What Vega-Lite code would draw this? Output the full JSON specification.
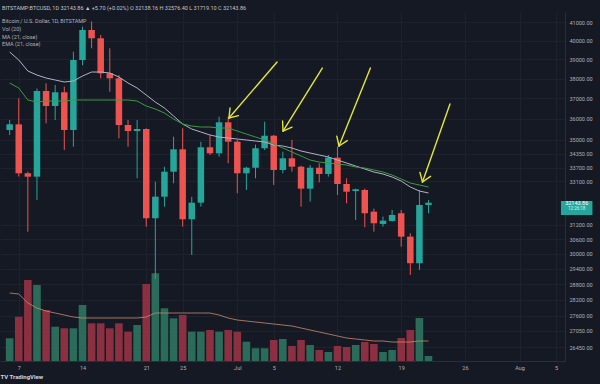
{
"$schema":"https://vega.github.io/schema/vega-lite/v6.json",
"width":565,"height":349,
"autosize":{"type":"none"},
"padding":{"left":0,"top":12,"right":35,"bottom":23},
"background":"#151924",
"config":{"view":{"stroke":null},"font":"Roboto"},
"title":{"text":"BITSTAMP:BTCUSD, 1D  32143.86  ▲ +5.70 (+0.02%)   O 32138.16  H 32576.40  L 31719.10  C 32143.86","subtitle":["\u00a0\u00a0Bitcoin / U.S. Dollar, 1D, BITSTAMP","\u00a0\u00a0Vol (20)","\u00a0\u00a0MA (21, close)","\u00a0\u00a0EMA (21, close)"],"anchor":"start","frame":"group","orient":"top","offset":-36,"dx":2,"fontSize":5.5,"fontWeight":"normal","color":"#c3c6ce","subtitleFontSize":5.5,"subtitleColor":"#aeb1ba","subtitleLineHeight":7.7,"subtitlePadding":8},
"datasets":{"ohlc":[
{"d":"2021-06-06","o":35460,"h":35940,"l":35220,"c":35730,"v":5675,"ma":39395,"ema":37781,"vma":17000},
{"d":"2021-06-07","o":35730,"h":37009,"l":33300,"c":33447,"v":11075,"ma":38972,"ema":37526,"vma":16750},
{"d":"2021-06-08","o":33447,"h":33520,"l":30914,"c":33294,"v":20250,"ma":38397,"ema":36923,"vma":14500},
{"d":"2021-06-09","o":33294,"h":37500,"l":32264,"c":37375,"v":19000,"ma":38190,"ema":36823,"vma":13250},
{"d":"2021-06-10","o":37375,"h":37765,"l":35781,"c":36627,"v":12750,"ma":38036,"ema":36873,"vma":12500},
{"d":"2021-06-11","o":36627,"h":37679,"l":35940,"c":37310,"v":8575,"ma":37934,"ema":36873,"vma":12000},
{"d":"2021-06-12","o":37310,"h":37600,"l":34515,"c":35459,"v":8175,"ma":37832,"ema":36873,"vma":11500},
{"d":"2021-06-13","o":35459,"h":39411,"l":34669,"c":38972,"v":8175,"ma":37883,"ema":36923,"vma":11000},
{"d":"2021-06-14","o":38972,"h":40763,"l":38710,"c":40582,"v":14000,"ma":38139,"ema":36923,"vma":10750},
{"d":"2021-06-15","o":40582,"h":41050,"l":39592,"c":40130,"v":9425,"ma":38345,"ema":36923,"vma":10750},
{"d":"2021-06-16","o":40130,"h":40309,"l":38021,"c":38279,"v":9425,"ma":38345,"ema":36923,"vma":10750},
{"d":"2021-06-17","o":38279,"h":39592,"l":37340,"c":38021,"v":8175,"ma":38294,"ema":36923,"vma":10750},
{"d":"2021-06-18","o":38021,"h":38191,"l":35064,"c":35699,"v":9425,"ma":38087,"ema":36923,"vma":10750},
{"d":"2021-06-19","o":35699,"h":35940,"l":34669,"c":35411,"v":7325,"ma":37781,"ema":36923,"vma":10750},
{"d":"2021-06-20","o":35411,"h":35940,"l":33222,"c":35507,"v":9000,"ma":37526,"ema":36873,"vma":10750},
{"d":"2021-06-21","o":35507,"h":35540,"l":31123,"c":31477,"v":19250,"ma":37173,"ema":36625,"vma":11000},
{"d":"2021-06-22","o":31477,"h":33070,"l":29000,"c":32408,"v":21925,"ma":36823,"ema":36477,"vma":12000},
{"d":"2021-06-23","o":32408,"h":33746,"l":31974,"c":33519,"v":13175,"ma":36526,"ema":36281,"vma":12000},
{"d":"2021-06-24","o":33519,"h":35140,"l":33000,"c":34547,"v":10675,"ma":36134,"ema":35989,"vma":12000},
{"d":"2021-06-25","o":34547,"h":35540,"l":31123,"c":31435,"v":11500,"ma":35746,"ema":35746,"vma":12000},
{"d":"2021-06-26","o":31435,"h":32400,"l":29957,"c":32147,"v":7325,"ma":35506,"ema":35650,"vma":12000},
{"d":"2021-06-27","o":32147,"h":34900,"l":31974,"c":34641,"v":7325,"ma":35362,"ema":35602,"vma":12000},
{"d":"2021-06-28","o":34641,"h":35220,"l":34283,"c":34361,"v":7750,"ma":35220,"ema":35602,"vma":12000},
{"d":"2021-06-29","o":34361,"h":36101,"l":34204,"c":35829,"v":7325,"ma":35125,"ema":35554,"vma":11500},
{"d":"2021-06-30","o":35829,"h":36101,"l":33901,"c":34903,"v":7750,"ma":35077,"ema":35554,"vma":10750},
{"d":"2021-07-01","o":34903,"h":34984,"l":32557,"c":33447,"v":7325,"ma":35030,"ema":35410,"vma":10250},
{"d":"2021-07-02","o":33447,"h":33746,"l":32702,"c":33700,"v":4825,"ma":34983,"ema":35267,"vma":10000},
{"d":"2021-07-03","o":33700,"h":34770,"l":33222,"c":34594,"v":3175,"ma":34936,"ema":35125,"vma":9750},
{"d":"2021-07-04","o":34594,"h":35858,"l":34515,"c":35187,"v":3175,"ma":34889,"ema":34983,"vma":9500},
{"d":"2021-07-05","o":35187,"h":35220,"l":32924,"c":33596,"v":5250,"ma":34748,"ema":34795,"vma":9250},
{"d":"2021-07-06","o":33596,"h":34436,"l":33447,"c":34131,"v":5500,"ma":34701,"ema":34607,"vma":9000},
{"d":"2021-07-07","o":34131,"h":34984,"l":33519,"c":33746,"v":3750,"ma":34607,"ema":34421,"vma":8750},
{"d":"2021-07-08","o":33746,"h":33790,"l":31974,"c":32760,"v":5250,"ma":34467,"ema":34236,"vma":8250},
{"d":"2021-07-09","o":32760,"h":33820,"l":32190,"c":33700,"v":4000,"ma":34375,"ema":34051,"vma":7750},
{"d":"2021-07-10","o":33700,"h":33901,"l":33040,"c":33416,"v":2750,"ma":34282,"ema":33959,"vma":7250},
{"d":"2021-07-11","o":33416,"h":34283,"l":33294,"c":34158,"v":2250,"ma":34190,"ema":33913,"vma":6750},
{"d":"2021-07-12","o":34158,"h":34669,"l":32482,"c":32968,"v":3750,"ma":34051,"ema":33868,"vma":6250},
{"d":"2021-07-13","o":32968,"h":33222,"l":32120,"c":32627,"v":3500,"ma":33913,"ema":33822,"vma":5750},
{"d":"2021-07-14","o":32658,"h":32760,"l":31405,"c":32733,"v":4000,"ma":33776,"ema":33731,"vma":5500},
{"d":"2021-07-15","o":32702,"h":32760,"l":31100,"c":31690,"v":4750,"ma":33640,"ema":33685,"vma":5250},
{"d":"2021-07-16","o":31759,"h":31890,"l":30914,"c":31266,"v":4250,"ma":33504,"ema":33595,"vma":5000},
{"d":"2021-07-17","o":31237,"h":31550,"l":31123,"c":31376,"v":2250,"ma":33414,"ema":33504,"vma":5000},
{"d":"2021-07-18","o":31363,"h":31832,"l":31330,"c":31618,"v":2750,"ma":33279,"ema":33369,"vma":4750},
{"d":"2021-07-19","o":31690,"h":31832,"l":30294,"c":30706,"v":5750,"ma":33099,"ema":33189,"vma":4750},
{"d":"2021-07-20","o":30706,"h":30847,"l":29160,"c":29624,"v":7750,"ma":32833,"ema":33010,"vma":4750},
{"d":"2021-07-21","o":29624,"h":32702,"l":29357,"c":32047,"v":10750,"ma":32656,"ema":32921,"vma":5000},
{"d":"2021-07-22","o":32047,"h":32260,"l":31690,"c":32143,"v":1250,"ma":32568,"ema":32833,"vma":5000}
],
"arrows":[
{"x":"2021-07-05T08:54:00Z","p":38867,"x2":"2021-06-30T02:02:00Z","p2":36037},
{"x":"2021-07-01T03:10:00Z","p":36154,"x2":"2021-06-30T02:02:00Z","p2":36037},
{"x":"2021-06-30T04:54:00Z","p":36526,"x2":"2021-06-30T02:02:00Z","p2":36037},
{"x":"2021-07-10T08:00:00Z","p":38553,"x2":"2021-07-06T00:26:00Z","p2":35410},
{"x":"2021-07-07T00:16:00Z","p":35592,"x2":"2021-07-06T00:26:00Z","p2":35410},
{"x":"2021-07-05T23:24:00Z","p":35892,"x2":"2021-07-06T00:26:00Z","p2":35410},
{"x":"2021-07-15T14:51:00Z","p":38553,"x2":"2021-07-12T04:00:00Z","p2":34701},
{"x":"2021-07-13T01:45:00Z","p":34955,"x2":"2021-07-12T04:00:00Z","p2":34701},
{"x":"2021-07-11T22:19:00Z","p":35163,"x2":"2021-07-12T04:00:00Z","p2":34701},
{"x":"2021-07-24T08:34:00Z","p":36724,"x2":"2021-07-21T08:05:00Z","p2":33055},
{"x":"2021-07-22T05:18:00Z","p":33310,"x2":"2021-07-21T08:05:00Z","p2":33055},
{"x":"2021-07-21T01:21:00Z","p":33486,"x2":"2021-07-21T08:05:00Z","p2":33055}
]},
"resolve":{"scale":{"y":"independent"},"axis":{"y":"independent"}},
"layer":[
{"data":{"name":"ohlc"},
 "layer":[
  {"mark":{"type":"bar","width":7.6},
   "encoding":{
    "x":{"field":"d","type":"temporal","scale":{"type":"utc","domain":[1622893518720,1628159529600]},
     "axis":{"values":[1623024000000,1623628800000,1624233600000,1624579200000,1625097600000,1625443200000,1626048000000,1626652800000,1627257600000,1627776000000,1628121600000],
      "labelExpr":"utcdate(datum.value) == 1 ? utcFormat(datum.value, '%b') : utcFormat(datum.value, '%-d')",
      "title":"TV TradingView","titleAnchor":"start","titleAlign":"left","titleFontSize":6,"titleFontWeight":"bold","titleColor":"#d1d4dc","titlePadding":3,
      "grid":true,"gridColor":"#1e222d","domain":true,"domainColor":"#2a2e39","ticks":false,"labelPadding":4,"labelFontSize":5.5,"labelColor":"#aeb1b9","labelFlush":false}},
    "y":{"field":"v","type":"quantitative","scale":{"domain":[0,87250],"nice":false},"axis":null},
    "color":{"condition":{"test":"datum.c >= datum.o","value":"#2b6b59"},"value":"#8a3040"}}},
  {"mark":{"type":"line","strokeWidth":0.8,"color":"#c98a6a"},
   "encoding":{
    "x":{"field":"d","type":"temporal","scale":{"type":"utc","domain":[1622893518720,1628159529600]}},
    "y":{"field":"vma","type":"quantitative","scale":{"domain":[0,87250],"nice":false},"axis":null}}}
 ]},
{"layer":[
  {"data":{"name":"ohlc"},"mark":{"type":"rule","strokeWidth":1},
   "encoding":{
    "x":{"field":"d","type":"temporal","scale":{"type":"utc","domain":[1622893518720,1628159529600]}},
    "y":{"field":"l","type":"quantitative","scale":{"type":"log","domain":[25962,41580],"nice":false,"zero":false},
     "axis":{"orient":"right","values":[41000,40000,39000,38000,37000,36000,35000,34350,33700,33100,31200,30600,30000,29400,28800,28200,27600,27050,26450],"format":".2f","title":null,"grid":true,"gridColor":"#1e222d","domain":true,"domainColor":"#2a2e39","ticks":false,"labelPadding":4,"labelFontSize":5.5,"labelColor":"#aeb1b9"}},
    "y2":{"field":"h"},
    "color":{"condition":{"test":"datum.c >= datum.o","value":"#26a69a"},"value":"#ef5350"}}},
  {"data":{"name":"ohlc"},"mark":{"type":"bar","width":6.5},
   "encoding":{
    "x":{"field":"d","type":"temporal","scale":{"type":"utc","domain":[1622893518720,1628159529600]}},
    "y":{"field":"o","type":"quantitative","scale":{"type":"log","domain":[25962,41580],"nice":false,"zero":false}},
    "y2":{"field":"c"},
    "color":{"condition":{"test":"datum.c >= datum.o","value":"#26a69a"},"value":"#ef5350"}}},
  {"mark":{"type":"rule","color":"#26a69a","strokeDash":[1,2],"opacity":0.7},
   "encoding":{"y":{"datum":32143.86,"type":"quantitative","scale":{"type":"log","domain":[25962,41580],"nice":false,"zero":false}}}},
  {"data":{"name":"ohlc"},"mark":{"type":"line","strokeWidth":1,"color":"#b4b0c8"},
   "encoding":{
    "x":{"field":"d","type":"temporal","scale":{"type":"utc","domain":[1622893518720,1628159529600]}},
    "y":{"field":"ma","type":"quantitative","scale":{"type":"log","domain":[25962,41580],"nice":false,"zero":false}}}},
  {"data":{"name":"ohlc"},"mark":{"type":"line","strokeWidth":1,"color":"#3c9a40"},
   "encoding":{
    "x":{"field":"d","type":"temporal","scale":{"type":"utc","domain":[1622893518720,1628159529600]}},
    "y":{"field":"ema","type":"quantitative","scale":{"type":"log","domain":[25962,41580],"nice":false,"zero":false}}}},
  {"data":{"name":"arrows"},"mark":{"type":"rule","strokeWidth":1.4,"color":"#e4e636","strokeCap":"round"},
   "encoding":{
    "x":{"field":"x","type":"temporal","scale":{"type":"utc","domain":[1622893518720,1628159529600]}},
    "x2":{"field":"x2"},
    "y":{"field":"p","type":"quantitative","scale":{"type":"log","domain":[25962,41580],"nice":false,"zero":false}},
    "y2":{"field":"p2"}}},
  {"data":{"values":[{"x":"2021-08-05T13:00:00Z","x2":"2021-08-09T00:00:00Z","p":32217,"p2":31615}]},
   "mark":{"type":"rect","color":"#26a69a"},
   "encoding":{
    "x":{"field":"x","type":"temporal","scale":{"type":"utc","domain":[1622893518720,1628159529600]}},
    "x2":{"field":"x2"},
    "y":{"field":"p","type":"quantitative","scale":{"type":"log","domain":[25962,41580],"nice":false,"zero":false}},
    "y2":{"field":"p2"}}},
  {"data":{"values":[{"x":"2021-08-07T06:30:00Z","p":32143.86,"t":"32143.86"}]},
   "mark":{"type":"text","color":"#ffffff","fontSize":5.5,"dy":0},
   "encoding":{
    "x":{"field":"x","type":"temporal","scale":{"type":"utc","domain":[1622893518720,1628159529600]}},
    "y":{"field":"p","type":"quantitative","scale":{"type":"log","domain":[25962,41580],"nice":false,"zero":false}},
    "text":{"field":"t"}}},
  {"data":{"values":[{"x":"2021-08-07T06:30:00Z","p":32143.86,"t":"12:26:18"}]},
   "mark":{"type":"text","color":"#d8f3ef","fontSize":4.5,"dy":6},
   "encoding":{
    "x":{"field":"x","type":"temporal","scale":{"type":"utc","domain":[1622893518720,1628159529600]}},
    "y":{"field":"p","type":"quantitative","scale":{"type":"log","domain":[25962,41580],"nice":false,"zero":false}},
    "text":{"field":"t"}}}
 ]}
]
}
